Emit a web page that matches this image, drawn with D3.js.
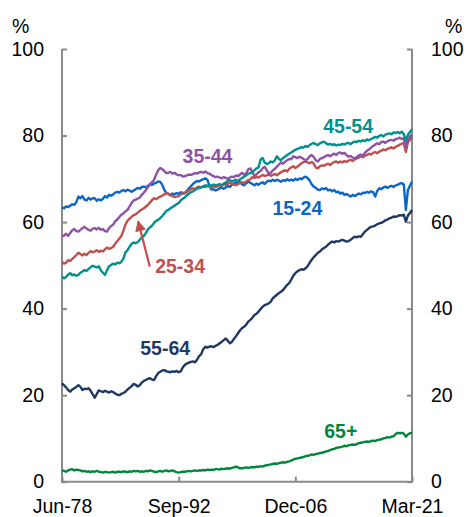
<!DOCTYPE html>
<html>
<head>
<meta charset="utf-8">
<script src="https://cdn.jsdelivr.net/npm/d3@7"></script>
<style>
  body { margin: 0; background: #fff; }
  text { font-family: "Liberation Sans", Arial, sans-serif; }
</style>
</head>
<body>
<svg width="466" height="517"></svg>
<script>
// quarterly participation rates, Jun-78 to Mar-21
var monthNames = ["Mar", "Jun", "Sep", "Dec"];
var quarters = [];
for (var q = 1; q <= 172; q++) {
  quarters.push(monthNames[q % 4] + "-" + String(1978 + Math.floor(q / 4)).slice(2));
}
var tickQuarters = ["Jun-78", "Sep-92", "Dec-06", "Mar-21"];
var yTicks = [0, 20, 40, 60, 80, 100];

var age15_24 = [63.4,63.2,63.6,63.5, 63.8,64.1,64.0,64.6, 65.9,65.5,66.0,65.2, 65.0,65.6,65.2,65.5, 65.5,64.9,65.3,65.0, 65.4,66.0,65.7,66.3, 66.1,66.4,66.8,67.0, 66.8,67.2,67.4,67.1, 67.5,67.3,67.0,67.3, 67.6,67.9,67.7,68.1, 68.2,68.0,68.4,68.7, 68.6,68.9,69.1,69.4, 69.3,68.6,67.4,66.8, 66.5,66.2,66.6,66.4, 66.7,66.5,66.9,66.6, 66.7,67.2,67.8,68.3, 68.8,69.2,69.5,69.4, 69.7,69.9,70.1,69.8, 68.4,67.5,67.6,67.3, 67.5,67.8,68.0,67.7, 68.0,68.4,68.1,68.6, 68.9,69.2,68.8,69.3, 68.7,68.5,69.0,69.3, 69.1,68.8,68.5,68.9, 68.6,69.0,69.2,68.8, 69.3,69.6,69.4,69.8, 69.5,69.8,69.6,69.3, 69.7,69.5,69.9,69.6, 69.8,69.6,70.0,69.7, 70.1,69.9,70.3,70.5, 70.2,69.6,68.7,68.2, 67.9,67.5,67.4,67.8, 67.6,67.9,67.3,67.5, 67.1,67.4,66.9,67.0, 66.6,66.8,66.3,66.5, 66.2,65.9,66.3,66.0, 66.3,66.6,66.4,66.8, 66.7,67.0,66.8,67.1, 66.9,65.9,67.2,67.8, 67.6,68.0,68.2,67.9, 68.2,68.4,68.1,68.5, 68.6,68.9,69.0,68.7, 62.8,67.4,68.4,69.4];

var age25_34 = [50.8,50.4,50.6,51.2, 51.0,51.5,51.9,52.4, 52.9,52.6,52.3,52.7, 52.4,52.9,53.3,53.0, 53.2,53.5,53.1,53.4, 53.2,53.7,54.1,53.8, 54.0,54.3,55.0,55.6, 56.2,56.8,58.0,59.4, 60.3,60.8,61.2,61.6, 61.8,62.2,62.6,62.9, 63.2,63.6,64.0,64.5, 65.1,65.5,65.3,65.6, 65.9,66.1,66.4,66.7, 66.5,66.2,66.0,65.8, 65.9,66.0,66.4,66.8, 66.7,67.0,67.3,67.6, 67.8,67.6,68.0,68.2, 68.0,68.3,68.1,68.4, 68.2,68.0,68.3,68.1, 68.3,68.5,68.4,68.7, 68.6,68.9,69.1,68.8, 68.7,68.5,68.8,69.0, 69.2,69.0,69.4,69.7, 69.9,70.4,70.2,70.5, 70.3,70.6,70.9,70.7, 70.8,71.0,70.7,70.9, 71.1,70.8,71.2,71.5, 71.8,72.0,71.7,72.3, 72.6,72.9,72.5,72.8, 73.2,73.6,73.9,74.0, 73.8,73.6,73.9,73.5, 72.6,72.4,72.9,73.1, 73.0,73.3,73.5,73.2, 73.6,73.9,74.0,73.7, 74.0,73.8,74.1,73.9, 74.2,74.4,74.1,74.5, 74.7,74.9,75.2,75.0, 75.3,75.5,75.8,75.6, 76.0,76.2,75.9,76.3, 76.5,76.8,76.6,76.9, 77.1,77.3,77.0,77.4, 77.6,77.9,78.1,78.3, 76.2,78.5,79.0,79.7];

var age35_44 = [56.6,56.9,57.3,56.8, 57.5,58.1,58.4,57.9, 57.8,58.2,58.6,58.9, 58.5,58.2,58.0,58.5, 58.6,58.3,58.7,58.2, 58.4,57.9,57.8,58.6, 59.1,59.4,60.2,60.6, 61.2,61.7,62.0,62.5, 62.8,63.6,64.4,65.0, 65.2,65.4,65.7,66.3, 66.8,67.4,68.1,68.8, 69.2,69.8,71.0,72.0, 72.5,72.2,71.8,71.3, 71.4,71.6,71.2,71.4, 71.0,70.8,70.9,70.5, 70.6,70.8,71.0,70.9, 71.1,71.3,71.2,71.5, 71.6,71.4,71.7,71.3, 71.2,70.9,70.6,70.4, 70.5,70.3,70.1,70.4, 70.2,70.0,70.3,70.5, 70.4,70.8,70.6,71.0, 71.4,70.9,71.3,72.2, 72.4,71.6,70.7,71.0, 71.5,71.8,72.4,72.8, 72.0,71.2,71.4,72.0, 72.3,72.8,73.3,73.8, 73.5,73.9,74.3,74.6, 74.5,75.2,75.0,74.8, 75.1,74.9,74.6,74.3, 74.6,75.2,75.5,75.0, 74.3,74.0,74.6,74.8, 75.0,75.3,75.5,75.2, 75.6,75.8,75.5,76.0, 76.1,75.8,76.0,75.5, 75.1,75.3,74.9,74.8, 75.0,75.4,75.6,75.3, 76.0,76.5,76.8,77.2, 77.6,77.9,78.2,78.0, 78.5,78.6,78.3,78.7, 78.9,79.0,78.8,79.2, 79.3,79.5,79.2,79.4, 77.2,79.0,79.6,80.3];

var age45_54 = [47.4,47.0,47.3,47.9, 48.2,47.7,47.9,47.6, 47.8,48.3,48.6,48.9, 48.7,49.2,49.6,49.9, 49.7,49.5,49.8,48.8, 48.3,47.8,48.9,49.8, 50.1,50.4,50.2,50.6, 50.5,50.8,51.6,53.0, 53.5,54.3,55.0,55.3, 55.1,55.4,55.9,56.5, 56.8,57.5,58.3,58.8, 59.2,59.8,60.3,60.5, 60.9,61.4,62.0,62.6, 62.8,63.2,63.5,63.8, 64.1,64.4,65.0,65.4, 65.7,66.2,66.6,66.9, 67.1,67.4,67.7,67.9, 68.0,68.2,68.5,68.3, 68.6,68.4,68.7,68.5, 68.6,68.8,68.5,68.9, 69.1,69.5,69.7,69.4, 69.6,69.8,69.5,69.9, 70.2,70.5,70.8,71.2, 71.3,71.6,72.0,72.4, 72.6,74.4,74.8,73.8, 73.4,73.6,74.0,73.8, 74.3,75.2,74.6,74.3, 74.8,75.1,75.5,75.8, 76.1,76.4,76.7,76.9, 77.1,77.3,77.2,77.6, 77.4,77.8,78.1,78.3, 78.0,77.8,78.2,78.4, 78.6,78.2,77.9,78.1, 77.8,78.0,77.7,77.9, 77.8,78.1,77.9,78.2, 78.3,78.0,78.4,78.6, 78.5,78.8,78.6,78.9, 78.7,79.1,78.9,79.2, 79.4,79.7,79.5,79.9, 80.1,79.8,80.2,80.4, 80.5,80.3,80.7,80.6, 80.8,80.5,80.9,80.3, 78.8,80.2,80.8,81.5];

var age55_64 = [22.7,22.3,21.8,21.2, 20.8,21.3,21.6,21.9, 22.3,21.9,21.2,21.5, 21.4,21.6,21.0,20.2, 19.4,20.3,21.1,20.9, 20.7,21.0,20.8,20.6, 20.9,20.7,20.4,20.1, 20.0,20.3,20.5,20.8, 21.3,21.7,22.1,22.6, 22.4,22.0,22.3,22.9, 23.3,23.5,23.8,23.9, 23.6,23.5,24.4,25.1, 25.4,25.7,25.8,25.5, 25.4,25.3,25.5,25.4, 25.6,25.3,25.5,26.4, 27.0,27.3,27.5,27.7, 27.8,27.6,28.2,29.0, 29.5,30.6,31.2,31.0, 31.2,31.3,31.1,31.4, 31.6,32.0,32.3,32.7, 33.1,32.6,32.0,32.3, 33.0,33.6,34.3,35.0, 35.5,35.8,36.3,37.0, 37.4,37.9,38.5,38.8, 39.3,39.9,40.4,40.8, 41.0,41.2,41.6,42.4, 42.8,43.2,43.6,43.9, 44.3,44.9,45.5,45.9, 46.7,47.6,48.2,48.6, 48.9,49.1,49.0,49.3, 49.8,50.6,51.3,51.9, 52.4,52.9,53.2,53.7, 54.0,54.3,54.8,55.2, 55.5,55.3,55.6,55.5, 55.7,55.9,55.7,55.5, 55.6,55.9,56.3,56.6, 56.5,56.7,56.6,57.2, 57.8,58.2,58.6,58.9, 59.0,59.2,59.5,59.7, 59.8,60.1,60.4,60.6, 60.9,61.0,61.3,61.2, 61.4,61.6,61.5,61.7, 60.1,61.5,62.1,62.8];

var age65plus = [2.7,2.5,2.3,2.6, 2.8,2.9,2.6,2.8, 2.7,2.6,2.4,2.5, 2.3,2.4,2.2,2.4, 2.3,2.5,2.3,2.2, 2.1,2.3,2.2,2.1, 2.2,2.3,2.1,2.3, 2.3,2.2,2.4,2.3, 2.2,2.4,2.3,2.5, 2.4,2.5,2.3,2.4, 2.3,2.5,2.4,2.6, 2.5,2.3,2.2,2.4, 2.5,2.3,2.5,2.6, 2.4,2.5,2.6,2.4, 2.2,2.1,2.2,2.3, 2.3,2.4,2.5,2.4, 2.5,2.6,2.5,2.6, 2.6,2.7,2.6,2.8, 2.7,2.8,2.7,2.9, 2.9,2.8,3.0,2.9, 3.0,3.1,3.0,3.2, 3.3,3.5,3.3,3.1, 3.1,3.2,3.3,3.2, 3.3,3.4,3.3,3.5, 3.4,3.6,3.5,3.7, 3.8,3.9,4.0,4.1, 4.2,4.1,4.3,4.4, 4.5,4.4,4.6,4.7, 4.9,5.1,5.3,5.4, 5.5,5.6,5.7,5.9, 6.0,6.1,6.3,6.2, 6.4,6.5,6.6,6.7, 6.8,7.0,7.1,7.3, 7.5,7.6,7.8,7.9, 8.0,8.1,8.3,8.2, 8.4,8.5,8.6,8.5, 8.7,8.9,9.0,9.1, 9.2,9.3,9.2,9.4, 9.5,9.4,9.6,9.7, 9.8,10.0,10.1,10.3, 10.2,10.4,10.5,11.0, 11.3,11.2,11.3,11.1, 10.4,10.9,11.2,11.3];

var series = [
  { name: "15-24", values: age15_24, color: "#0A66C8", label: [115, 61.6] },
  { name: "25-34", values: age25_34, color: "#C0504D", label: [57.7, 48.2] },
  { name: "35-44", values: age35_44, color: "#8E52A6", label: [71.1, 73.7] },
  { name: "45-54", values: age45_54, color: "#00918F", label: [139.8, 80.6] },
  { name: "55-64", values: age55_64, color: "#1F3864", label: [50.4, 29.3] },
  { name: "65+",   values: age65plus, color: "#00873C", label: [136.2, 10.1] }
];

var svg = d3.select("svg"),
    margin = { top: 49, right: 54, bottom: 35.3, left: 62 },
    width = +svg.attr("width") - margin.left - margin.right,
    height = +svg.attr("height") - margin.top - margin.bottom;

var x = d3.scaleLinear().domain([0, quarters.length - 1]).range([0, width]),
    y = d3.scaleLinear().domain([0, 100]).range([height, 0]);

var g = svg.append("g")
    .attr("transform", "translate(" + margin.left + "," + margin.top + ")");

var axisColor = "#8a8a8a";

// axes
var yLeft = g.append("g")
    .call(d3.axisLeft(y).tickValues(yTicks).tickSize(-5).tickPadding(18));
var yRight = g.append("g")
    .attr("transform", "translate(" + width + ",0)")
    .call(d3.axisRight(y).tickValues(yTicks).tickSize(-5).tickPadding(19));
var xAxis = g.append("g")
    .attr("transform", "translate(0," + height + ")")
    .call(d3.axisBottom(x)
      .tickValues(tickQuarters.map(function(t) { return quarters.indexOf(t); }))
      .tickFormat(function(i) { return quarters[i]; })
      .tickSize(-5));

[yLeft, yRight, xAxis].forEach(function(a) {
  a.select(".domain").remove();
  a.selectAll(".tick line").attr("stroke", axisColor).attr("stroke-width", 2);
  a.selectAll("text")
    .attr("fill", "#000")
    .style("font-size", "19.5px");
});
xAxis.selectAll("text").attr("y", 31).attr("dy", 0);

// axis lines drawn as plain frame sides (no top)
g.append("path")
    .attr("d", "M0,0V" + height + "H" + width + "V0")
    .attr("fill", "none")
    .attr("stroke", axisColor)
    .attr("stroke-width", 2);

svg.append("text").attr("x", 12).attr("y", 33).text("%").style("font-size", "19.5px");
svg.append("text").attr("x", 445).attr("y", 33).text("%").style("font-size", "19.5px");

// lines
var line = d3.line()
    .x(function(d, i) { return x(i); })
    .y(function(d) { return y(d); });

g.selectAll(".series")
  .data(series)
  .enter().append("path")
    .attr("class", "series")
    .attr("fill", "none")
    .attr("stroke", function(d) { return d.color; })
    .attr("stroke-width", 2.4)
    .attr("stroke-linejoin", "round")
    .attr("d", function(d) { return line(d.values); });

// labels
g.selectAll(".lbl")
  .data(series)
  .enter().append("text")
    .attr("class", "lbl")
    .attr("x", function(d) { return x(d.label[0]); })
    .attr("y", function(d) { return y(d.label[1]); })
    .attr("text-anchor", "middle")
    .attr("fill", function(d) { return d.color; })
    .style("font-size", "19.5px")
    .style("font-weight", "bold")
    .text(function(d) { return d.name; });

// arrow for 25-34
svg.append("defs").append("marker")
    .attr("id", "head")
    .attr("viewBox", "0 0 10 10")
    .attr("refX", 9).attr("refY", 5)
    .attr("markerWidth", 5.5).attr("markerHeight", 5)
    .attr("orient", "auto")
  .append("path")
    .attr("d", "M0,0L10,5L0,10Z")
    .attr("fill", "#C0504D");

g.append("line")
    .attr("x1", x(42.9)).attr("y1", y(49.7))
    .attr("x2", x(37.2)).attr("y2", y(60.2))
    .attr("stroke", "#C0504D")
    .attr("stroke-width", 2.2)
    .attr("marker-end", "url(#head)");
</script>
</body>
</html>
